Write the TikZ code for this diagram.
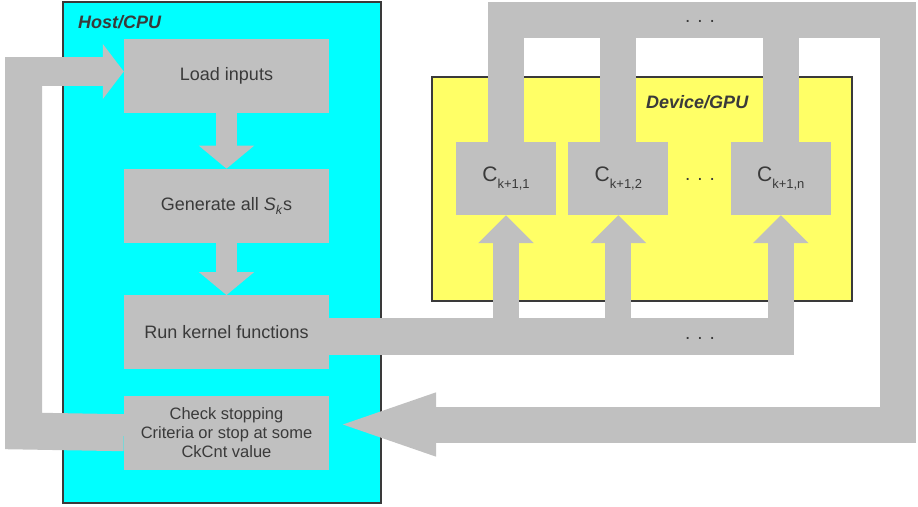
\documentclass[tikz,border=0pt]{standalone}
\usepackage{fontspec}
\setmainfont{Liberation Sans}
\usetikzlibrary{arrows.meta,positioning}
\definecolor{hostcyan}{HTML}{00FFFF}
\definecolor{devyellow}{HTML}{FFFF66}
\definecolor{pipegray}{HTML}{C0C0C0}
\definecolor{inkgray}{HTML}{3A3A3A}
\newcommand{\cname}[1]{{\fontsize{21}{24}\selectfont C}\raisebox{-7pt}{\fontsize{13}{15}\selectfont #1}}

\begin{document}
\begin{tikzpicture}[x=1pt,y=-1pt,
  every node/.style={text=inkgray,font=\fontsize{18}{21}\selectfont},
  region/.style={draw=inkgray,line width=1.2pt},
  title/.style={anchor=base west,inner sep=0pt,font=\fontsize{18}{21}\selectfont\bfseries\itshape},
  task/.style={fill=pipegray,minimum width=205pt,minimum height=74pt,inner sep=0pt,align=center},
  cell/.style={fill=pipegray,minimum width=100pt,minimum height=73pt,inner sep=0pt},
  pipe/.style={draw=pipegray,line width=#1,line join=miter},
  fat/.style={-{Triangle[width=54pt,length=#1]}},fat/.default=23pt,
  dots/.style={inner sep=0pt,font=\fontsize{19}{21}\selectfont}]
  \useasboundingbox (0,0) rectangle (918,506);

  % host and device
  \draw[region,fill=hostcyan] (63,2) rectangle (381,503);
  \draw[region,fill=devyellow] (432,77) rectangle (852,301);
  \node[title] (hostlbl) at (78,28) {Host/CPU};
  \node[title] (devlbl) at (646,108) {Device/GPU};

  % host steps
  \node[task] (load) at (226.5,75.5) {Load inputs};
  \node[task] (gen) [below=56pt of load] {Generate all \textit{S}\textsubscript{\textit{k}}s};
  \node[task] (run) [below=52pt of gen] {Run kernel functions};
  \node[task,font=\fontsize{16.5}{19}\selectfont] (check) [below=26pt of run] {Check stopping\\Criteria or stop at some\\CkCnt value};

  % device cells
  \node[cell] (c1) at (506,178.5) {\cname{k+1,1}};
  \node[cell] (c2) [right=12pt of c1] {\cname{k+1,2}};
  \node[cell] (cn) [right=62pt of c2] {\cname{k+1,n}};

  \draw[pipe=21pt,fat] (load) -- (gen);
  \draw[pipe=21pt,fat] (gen) -- (run);

  % loop back to load
  \coordinate (lcorner) at (23.5,431);
  \coordinate (ltop) at (5,71.5);
  \draw[pipe=37pt] (check.west) -- (lcorner) -- (lcorner |- 0,57);
  \draw[pipe=29pt,fat=21pt] (ltop) -- (ltop -| load.west);

  % results back to check
  \coordinate (rtop) at (898,20);
  \coordinate (rbot) at (898,424.5);
  \draw[pipe=36pt,-{Triangle[width=54pt,length=107pt]}] (c1.north) -- (c1.north |- rtop) -- (rtop) -- (rbot) -- (rbot -| check.east);
  \draw[pipe=36pt] (c2.north) -- (c2.north |- rtop);
  \draw[pipe=36pt] (cn.north) -- (cn.north |- rtop);

  % kernel launches
  \coordinate (bbus) at (0,336.5);
  \draw[pipe=37pt] (run.east |- bbus) -- ([xshift=13pt]cn.south |- bbus);
  \foreach \c in {c1,c2,cn}
    \draw[pipe=26pt,fat=28pt] (\c.south |- bbus) -- (\c.south);

  \node[dots] (dtop) at (700,21) {. . .};
  \node[dots] (dmid) at (700,179) {. . .};
  \node[dots] (dbot) at (700,338) {. . .};
\end{tikzpicture}
\end{document}
